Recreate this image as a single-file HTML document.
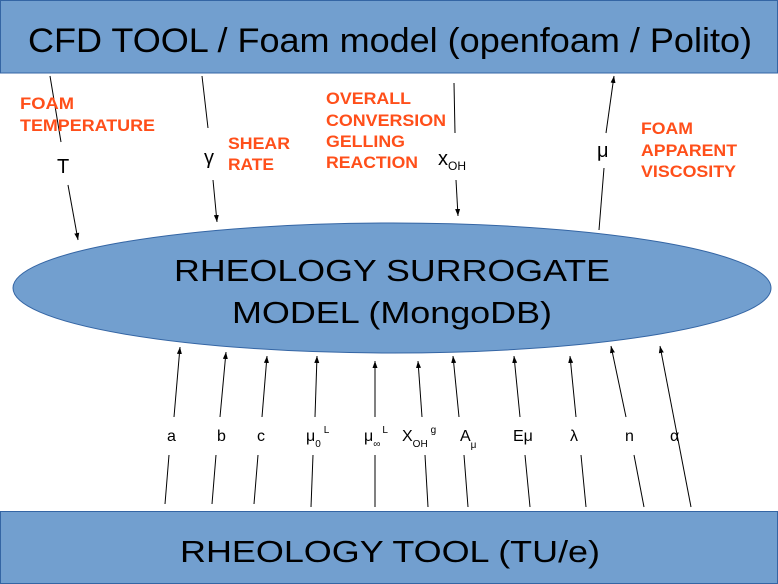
<!DOCTYPE html>
<html><head><meta charset="utf-8"><style>html,body{margin:0;padding:0;background:#fff}svg{display:block}text{font-family:"Liberation Sans",sans-serif}</style></head><body>
<svg width="778" height="584" viewBox="0 0 778 584" xmlns="http://www.w3.org/2000/svg">
<defs><marker id="ah" markerWidth="8" markerHeight="8" refX="7" refY="4" orient="auto" markerUnits="userSpaceOnUse"><path d="M0,1.5 L7,4 L0,6.5 z" fill="#000"/></marker></defs>
<rect x="0.5" y="0.5" width="777" height="72.5" fill="#729fcf" stroke="#3465a4"/>
<text x="28" y="52" font-size="34" textLength="724" lengthAdjust="spacingAndGlyphs">CFD TOOL / Foam model (openfoam / Polito)</text>
<rect x="0.5" y="511.5" width="777" height="72" fill="#729fcf" stroke="#3465a4"/>
<text x="180" y="562" font-size="31" textLength="420" lengthAdjust="spacingAndGlyphs">RHEOLOGY TOOL (TU/e)</text>
<ellipse cx="392" cy="288" rx="379" ry="65" fill="#729fcf" stroke="#3465a4"/>
<text x="174" y="281" font-size="31" textLength="436" lengthAdjust="spacingAndGlyphs">RHEOLOGY SURROGATE</text>
<text x="232" y="323" font-size="31" textLength="320" lengthAdjust="spacingAndGlyphs">MODEL (MongoDB)</text>
<g stroke="#000" stroke-width="1" fill="none">
<line x1="50" y1="76" x2="61" y2="142"/><line x1="68" y1="185" x2="78" y2="240" marker-end="url(#ah)"/>
<line x1="202" y1="76" x2="208" y2="128"/><line x1="213" y1="180" x2="217" y2="222" marker-end="url(#ah)"/>
<line x1="454" y1="83" x2="455" y2="133"/><line x1="456" y1="180" x2="458" y2="216" marker-end="url(#ah)"/>
<line x1="599" y1="230" x2="604" y2="168"/><line x1="606" y1="133" x2="614" y2="76" marker-end="url(#ah)"/>
<line x1="174" y1="417" x2="180" y2="347" marker-end="url(#ah)"/><line x1="165" y1="504" x2="169" y2="455"/>
<line x1="220" y1="417" x2="226" y2="352" marker-end="url(#ah)"/><line x1="212" y1="504" x2="216" y2="455"/>
<line x1="262" y1="417" x2="267" y2="356" marker-end="url(#ah)"/><line x1="254" y1="504" x2="258" y2="455"/>
<line x1="315" y1="417" x2="317" y2="356" marker-end="url(#ah)"/><line x1="311" y1="507" x2="313" y2="455"/>
<line x1="375" y1="417" x2="375" y2="361" marker-end="url(#ah)"/><line x1="375" y1="507" x2="375" y2="455"/>
<line x1="422" y1="417" x2="418" y2="361" marker-end="url(#ah)"/><line x1="428" y1="507" x2="425" y2="455"/>
<line x1="459" y1="417" x2="453" y2="356" marker-end="url(#ah)"/><line x1="468" y1="507" x2="464" y2="455"/>
<line x1="520" y1="417" x2="514" y2="356" marker-end="url(#ah)"/><line x1="530" y1="507" x2="525" y2="455"/>
<line x1="576" y1="417" x2="570" y2="356" marker-end="url(#ah)"/><line x1="586" y1="507" x2="581" y2="455"/>
<line x1="626" y1="417" x2="611" y2="346" marker-end="url(#ah)"/><line x1="644" y1="507" x2="634" y2="455"/>
<line x1="691" y1="507" x2="660" y2="346" marker-end="url(#ah)"/>
</g>
<g fill="#ff4f1a" font-weight="bold" font-size="17">
<text x="20" y="109" textLength="54" lengthAdjust="spacingAndGlyphs">FOAM</text>
<text x="20" y="131" textLength="135" lengthAdjust="spacingAndGlyphs">TEMPERATURE</text>
<text x="228" y="149" textLength="62" lengthAdjust="spacingAndGlyphs">SHEAR</text>
<text x="228" y="170" textLength="46" lengthAdjust="spacingAndGlyphs">RATE</text>
<text x="326" y="104" textLength="85" lengthAdjust="spacingAndGlyphs">OVERALL</text>
<text x="326" y="126" textLength="120" lengthAdjust="spacingAndGlyphs">CONVERSION</text>
<text x="326" y="147" textLength="79" lengthAdjust="spacingAndGlyphs">GELLING</text>
<text x="326" y="168" textLength="92" lengthAdjust="spacingAndGlyphs">REACTION</text>
<text x="641" y="134" textLength="52" lengthAdjust="spacingAndGlyphs">FOAM</text>
<text x="641" y="156" textLength="96" lengthAdjust="spacingAndGlyphs">APPARENT</text>
<text x="641" y="177" textLength="95" lengthAdjust="spacingAndGlyphs">VISCOSITY</text>
</g>
<g font-size="20">
<text x="57" y="173">T</text>
<text x="204" y="164">γ</text>
<text x="438" y="165">x<tspan font-size="12" dy="5">OH</tspan></text>
<text x="597" y="157">μ</text>
</g>
<g font-size="16">
<text x="167" y="441">a</text>
<text x="217" y="441">b</text>
<text x="257" y="441">c</text>
<text x="306" y="441">μ<tspan font-size="10" dy="6">0</tspan><tspan font-size="10" dy="-14" dx="3">L</tspan></text>
<text x="364" y="441">μ<tspan font-size="10" dy="6">∞</tspan><tspan font-size="10" dy="-14" dx="2">L</tspan></text>
<text x="402" y="441">X<tspan font-size="10" dy="6">OH</tspan><tspan font-size="10" dy="-14" dx="3">g</tspan></text>
<text x="460" y="441">A<tspan font-size="10" dy="7">μ</tspan></text>
<text x="513" y="441">Eμ</text>
<text x="570" y="441">λ</text>
<text x="625" y="441">n</text>
<text x="670" y="441">α</text>
</g>
</svg>
</body></html>
